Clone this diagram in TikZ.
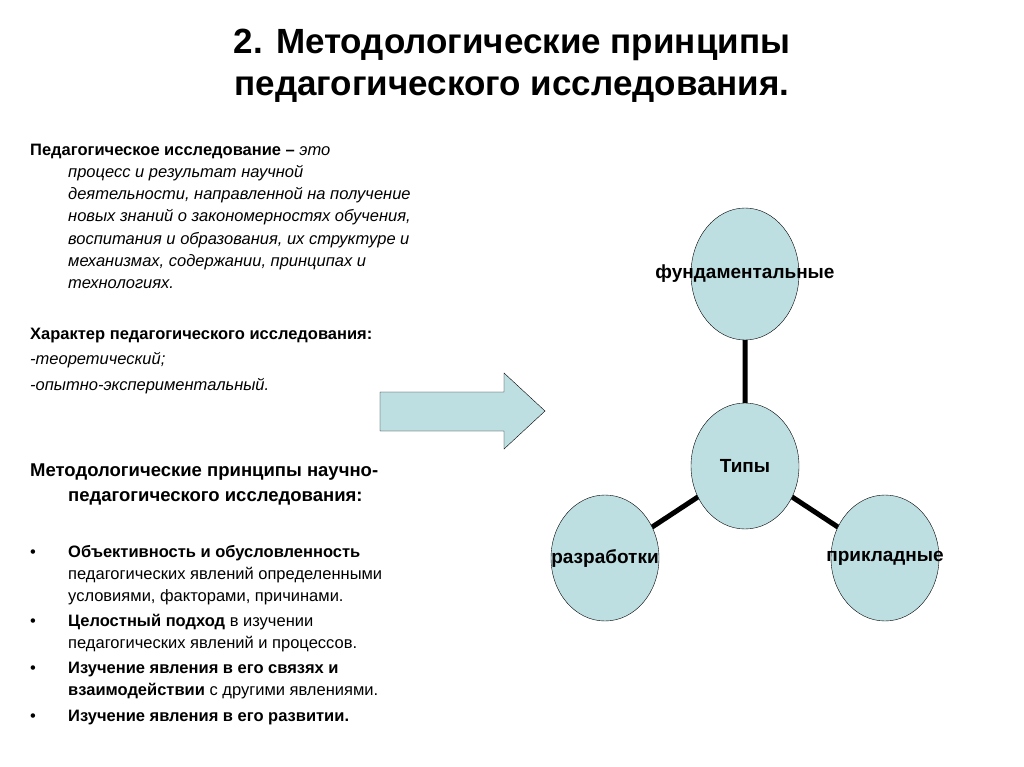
\documentclass[tikz,border=0pt]{standalone}
\usepackage{fontspec}
\setmainfont{Liberation Sans}
\usetikzlibrary{shapes.geometric}
\definecolor{cfill}{HTML}{BEDFE2}
\begin{document}
\begin{tikzpicture}[x=1pt,y=-1pt,
  txt/.style={anchor=base west,inner sep=0pt,font=\fontsize{16.5}{20}\selectfont},
  circ/.style={draw=black,fill=cfill,ellipse,minimum width=108pt,minimum height=126pt,inner sep=0pt},
  lbl/.style={font=\fontsize{19}{22}\selectfont\bfseries},
  link/.style={line width=5pt}]
\useasboundingbox (0,0) rectangle (1024,767);
\node[font=\fontsize{35}{42}\selectfont\bfseries,align=center] (title) at (512,66) {2. Методологические принципы\\педагогического исследования.};
\node[txt] (p1) at (30,156) {\textbf{Педагогическое исследование –} \textit{это}};
\node[txt] (p2) at (68,178) {\textit{процесс и результат научной}};
\node[txt] (p3) at (68,200) {\textit{деятельности, направленной на получение}};
\node[txt] (p4) at (68,222) {\textit{новых знаний о закономерностях обучения,}};
\node[txt] (p5) at (68,244) {\textit{воспитания и образования, их структуре и}};
\node[txt] (p6) at (68,266) {\textit{механизмах, содержании, принципах и}};
\node[txt] (p7) at (68,288) {\textit{технологиях.}};
\node[txt] (h1) at (30,339) {\textbf{Характер педагогического исследования:}};
\node[txt] (h2) at (30,364) {\textit{-теоретический;}};
\node[txt] (h3) at (30,390) {\textit{-опытно-экспериментальный.}};
\node[txt,font=\fontsize{18.5}{22}\selectfont\bfseries] (m1) at (30,476) {Методологические принципы научно-};
\node[txt,font=\fontsize{18.5}{22}\selectfont\bfseries] (m2) at (68,501) {педагогического исследования:};
\foreach \y/\n in {557/b1,626/b2,673/b3,721/b4}{\node[txt] (\n) at (30,\y) {•};}
\node[txt] (t1) at (68,557) {\textbf{Объективность и обусловленность}};
\node[txt] (t2) at (68,579) {педагогических явлений определенными};
\node[txt] (t3) at (68,601) {условиями, факторами, причинами.};
\node[txt] (t4) at (68,626) {\textbf{Целостный подход} в изучении};
\node[txt] (t5) at (68,648) {педагогических явлений и процессов.};
\node[txt] (t6) at (68,673) {\textbf{Изучение явления в его связях и}};
\node[txt] (t7) at (68,695) {\textbf{взаимодействии} с другими явлениями.};
\node[txt] (t8) at (68,721) {\textbf{Изучение явления в его развитии.}};
\draw[fill=cfill] (380,392) -- (504,392) -- (504,373) -- (545,411) -- (504,449) -- (504,431) -- (380,431) -- cycle;
\path (745,274) coordinate (cf) (745,466) coordinate (ct) (605,558) coordinate (cr) (885,558) coordinate (cp);
\draw[link] (cf) -- (ct) (ct) -- (cr) (ct) -- (cp);
\node[circ,minimum height=132pt] (f) at (cf) {};
\node[circ] (t) at (ct) {};
\node[circ] (r) at (cr) {};
\node[circ] (p) at (cp) {};
\node[lbl] at (cf) {фундаментальные};
\node[lbl] at (ct) {Типы};
\node[lbl] at (cr) {разработки};
\node[lbl] at (cp) {прикладные};
\end{tikzpicture}
\end{document}
